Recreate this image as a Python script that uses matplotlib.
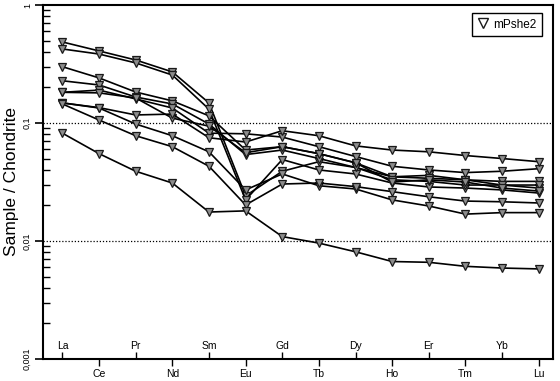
import matplotlib
matplotlib.use("Agg")
import matplotlib.pyplot as plt
from matplotlib.lines import Line2D
import matplotlib.transforms as mtransforms

plt.rcParams['font.family'] = ['Liberation Sans', 'DejaVu Sans']

elements = ["La", "Ce", "Pr", "Nd", "Sm", "Eu", "Gd", "Tb", "Dy", "Ho", "Er", "Tm", "Yb", "Lu"]

s1 = [0.486, 0.408, 0.342, 0.271, 0.148, 0.0241, 0.039, 0.047, 0.042, 0.035, 0.036, 0.033, 0.0298, 0.0281]
s2 = [0.424, 0.384, 0.323, 0.255, 0.131, 0.0223, 0.049, 0.040, 0.037, 0.031, 0.0287, 0.0281, 0.0271, 0.0255]
s3 = [0.300, 0.241, 0.183, 0.154, 0.115, 0.059, 0.063, 0.055, 0.046, 0.035, 0.034, 0.033, 0.032, 0.032]
s4 = [0.228, 0.210, 0.166, 0.145, 0.098, 0.054, 0.059, 0.050, 0.042, 0.033, 0.032, 0.0298, 0.0298, 0.0298]
s5 = [0.182, 0.190, 0.160, 0.134, 0.082, 0.081, 0.076, 0.063, 0.052, 0.043, 0.040, 0.038, 0.039, 0.041]
s6 = [0.182, 0.180, 0.163, 0.110, 0.094, 0.056, 0.063, 0.055, 0.046, 0.0316, 0.033, 0.0316, 0.0281, 0.0265]
s7 = [0.148, 0.135, 0.117, 0.119, 0.075, 0.069, 0.086, 0.078, 0.064, 0.059, 0.057, 0.053, 0.050, 0.047]
s8 = [0.148, 0.134, 0.098, 0.078, 0.057, 0.0271, 0.037, 0.0294, 0.0276, 0.0223, 0.0198, 0.0169, 0.0174, 0.0174]
s9 = [0.145, 0.106, 0.078, 0.063, 0.043, 0.0202, 0.0304, 0.031, 0.0289, 0.0262, 0.0237, 0.0218, 0.0215, 0.0210]
s10 = [0.082, 0.055, 0.039, 0.031, 0.0176, 0.0180, 0.0109, 0.0096, 0.0081, 0.0067, 0.0066, 0.0061, 0.0059, 0.0058]
series = [s1, s2, s3, s4, s5, s6, s7, s8, s9, s10]

legend_label = "mPshe2"
ytick_vals = [0.001, 0.01, 0.1, 1]
ytick_labels = ["0,001", "0,01", "0,1", "1"]

fig = plt.figure(figsize=(5.6, 3.81), dpi=100)
ax = fig.add_axes([43/560, 1-359/381, (553-43)/560, (359-5)/381])

x = list(range(len(elements)))
for s in series:
    ax.plot(x, s, color='black', lw=1.2, marker='v', ms=6.3,
            mfc='#8c8c8c', mec='#1a1a1a', mew=0.9, zorder=3)

ax.set_yscale('log')
ax.set_ylim(0.001, 1)
ax.set_xlim(-0.53, 13.39)

for yv in [0.1, 0.01]:
    ax.axhline(yv, color='black', ls=(0, (1, 1.5)), lw=0.9, zorder=1)

ax.set_yticks(ytick_vals)
ax.set_yticklabels(ytick_labels, rotation=90, va='center', fontsize=6.5)
ax.tick_params(axis='y', which='major', direction='out', length=6, width=1.2, pad=2)
ax.tick_params(axis='y', which='minor', direction='in', length=5, width=1.0)
ax.yaxis.set_minor_formatter(matplotlib.ticker.NullFormatter())

lower = [i for i in x if i % 2 == 1]
upper = [i for i in x if i % 2 == 0]
ax.set_xticks(lower)
ax.set_xticklabels([elements[i] for i in lower], fontsize=7.5)
ax.set_xticks(upper, minor=True)
ax.tick_params(axis='x', which='major', direction='out', length=5, width=1.0, pad=2)
ax.tick_params(axis='x', which='minor', direction='in', length=5, width=1.0)
trans = mtransforms.blended_transform_factory(ax.transData, ax.transAxes)
for i in upper:
    ax.text(i, 0.022, elements[i], transform=trans, ha='center', va='bottom', fontsize=7.5)

for sp in ax.spines.values():
    sp.set_linewidth(1.5)

ax.set_ylabel("Sample / Chondrite", fontsize=12.5, labelpad=3)

handle = Line2D([], [], ls='none', marker='v', ms=7, mfc='white', mec='#1a1a1a', mew=1.0)
leg = ax.legend([handle], [legend_label], loc='upper right', fontsize=8.5,
                frameon=True, fancybox=False, edgecolor='black', framealpha=1,
                handletextpad=0.3, borderpad=0.5, handlelength=1.0,
                bbox_to_anchor=(0.99, 0.995))
leg.get_frame().set_linewidth(1.0)

fig.savefig("out.png", dpi=100)
